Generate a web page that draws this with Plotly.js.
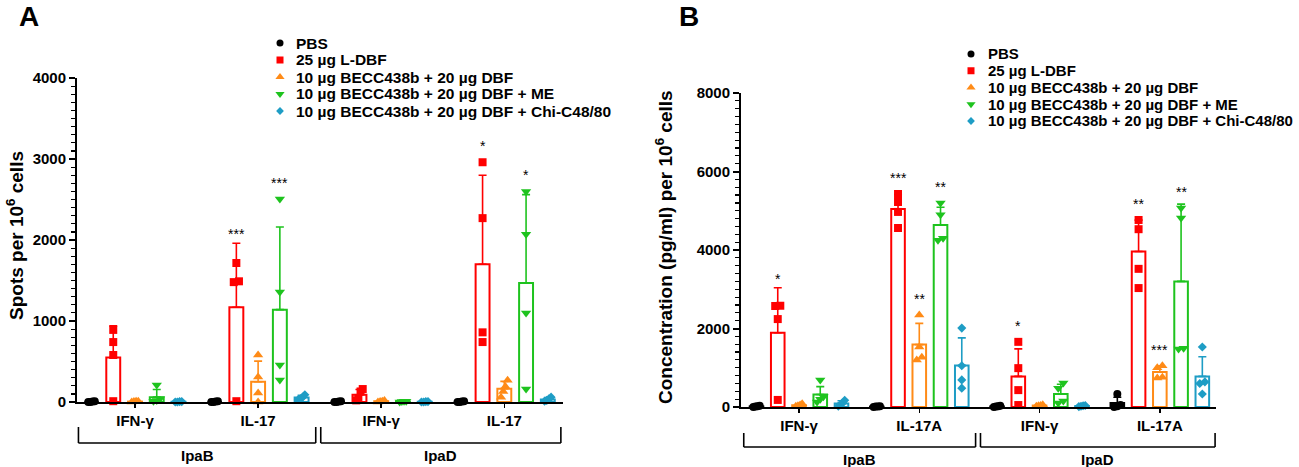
<!DOCTYPE html>
<html>
<head>
<meta charset="utf-8">
<script src="https://cdn.plot.ly/plotly-3.0.1.min.js"></script>
<style>html,body{margin:0;padding:0;background:#fff}#chart{width:1299px;height:467px}</style>
</head>
<body>
<div id="chart"></div>
<script>
// ---------------- DATA ----------------
const SERIES = ['PBS', '25 µg L-DBF', '10 µg BECC438b + 20 µg DBF',
  '10 µg BECC438b + 20 µg DBF + ME', '10 µg BECC438b + 20 µg DBF + Chi-C48/80'];
const CATS_A = ['IFN-γ', 'IL-17', 'IFN-γ', 'IL-17'];
const CATS_B = ['IFN-γ', 'IL-17A', 'IFN-γ', 'IL-17A'];
const ANTIGENS = ['IpaB', 'IpaD'];
const TICKS_A = [0, 1000, 2000, 3000, 4000];
const TICKS_B = [0, 2000, 4000, 6000, 8000];

// Panel A: spots per 10^6 cells; groups = IpaB IFN-γ, IpaB IL-17, IpaD IFN-γ, IpaD IL-17
const A_PBS_PTS  = [[0, 5, 0, 10], [0, 5, 0, 10], [0, 5, 0, 10], [0, 5, 0, 10]];
const A_LDBF_PTS = [[890, 740, 580, 10], [1716, 1490, 1480, 10], [160, 130, 50, 20], [2960, 2270, 860, 740]];
const A_BECC_PTS = [[10, 5, 10, 0], [580, 310, 110, 0], [20, 10, 5, 0], [270, 190, 130, 60]];
const A_ME_PTS   = [[210, 40, 20, 10], [2506, 1358, 457, 272], [10, 10, 5, 0], [2600, 2070, 1100, 160]];
const A_CHI_PTS  = [[5, 0, 5, 0], [90, 60, 40, 30], [5, 0, 5, 0], [60, 40, 20, 10]];
const A_MEAN = [[0, 0, 0, 0], [550, 1170, 90, 1700], [5, 250, 10, 165], [60, 1140, 6, 1470], [3, 55, 3, 32]];
const A_SD   = [[0, 0, 0, 0], [390, 790, 65, 1100], [5, 255, 8, 90], [95, 1020, 5, 1090], [3, 27, 3, 22]];
const A_STARS = [['', '', '', ''], ['', '***', '', '*'], ['', '', '', ''], ['', '***', '', '*'], ['', '', '', '']];

// Panel B: concentration (pg/ml) per 10^6 cells; groups = IpaB IFN-γ, IpaB IL-17A, IpaD IFN-γ, IpaD IL-17A
const B_PBS_PTS  = [[20, 10, 30, 0], [20, 10, 10, 0], [30, 20, 10, 0], [330, 50, 20, 0]];
const B_LDBF_PTS = [[2573, 2580, 2240, 180], [5427, 5223, 4970, 4560], [1660, 990, 430, 50], [4765, 4530, 3520, 3030]];
const B_BECC_PTS = [[80, 50, 30, 20], [2344, 1530, 1270, 1200], [60, 40, 30, 20], [1050, 1000, 760, 740]];
const B_ME_PTS   = [[690, 260, 200, 130], [5200, 4900, 4300, 4250], [610, 480, 150, 100], [5070, 4815, 1500, 1480]];
const B_CHI_PTS  = [[170, 100, 60, 20], [2010, 1050, 690, 480], [40, 30, 20, 10], [1530, 640, 600, 330]];
const B_MEAN = [[15, 10, 15, 100], [1890, 5045, 780, 3960], [45, 1590, 38, 890], [320, 4640, 330, 3200], [90, 1060, 25, 780]];
const B_SD   = [[10, 8, 10, 150], [1150, 370, 700, 800], [25, 540, 18, 160], [200, 450, 250, 1970], [70, 700, 12, 500]];
const B_STARS = [['', '', '', ''], ['*', '***', '*', '**'], ['', '**', '', '***'], ['', '**', '', '**'], ['', '', '', '']];

// ---------------- STYLE ----------------
const COLORS = ['#000000', '#ff0000', '#ff8b17', '#1ec31e', '#1e9dc5'];
const SYMBOLS = ['circle', 'square', 'triangle-up', 'triangle-down', 'diamond'];
const MSIZE = [8, 8, 9, 9, 7];
const FONT = 'Arial, "Liberation Sans", Helvetica, sans-serif';
const W = 1299, H = 467;
const GAP = 5.66;      // distance between category centers (in slot units)
const BARW = 0.64;

const panels = [
  {key: 'A', xa: 'x', ya: 'y', cats: CATS_A, ticks: TICKS_A,
   pts: [A_PBS_PTS, A_LDBF_PTS, A_BECC_PTS, A_ME_PTS, A_CHI_PTS], mean: A_MEAN, sd: A_SD, stars: A_STARS,
   px0: 77, px1: 563, py0: 402, py1: 78, ymax: 4000, minor: 100, firstCenterPx: 135, slotPx: 21.75,
   brTop: 427, brBot: 443, grpLabelY: 455,
   legMarkX: 280, legTextX: 294, legY0: 43, legDY: 17, legFont: 15.5,
   title: 'Spots per 10<sup>6</sup> cells', titleX: 15, titleY: 236, letterX: 29},
  {key: 'B', xa: 'x2', ya: 'y2', cats: CATS_B, ticks: TICKS_B,
   pts: [B_PBS_PTS, B_LDBF_PTS, B_BECC_PTS, B_ME_PTS, B_CHI_PTS], mean: B_MEAN, sd: B_SD, stars: B_STARS,
   px0: 741, px1: 1216, py0: 407, py1: 93, ymax: 8000, minor: 200, firstCenterPx: 799, slotPx: 21.25,
   brTop: 433, brBot: 447, grpLabelY: 459,
   legMarkX: 971, legTextX: 986, legY0: 54, legDY: 16.75, legFont: 15,
   title: 'Concentration (pg/ml) per 10<sup>6</sup> cells', titleX: 664, titleY: 247, letterX: 689}
];

function swarm(vals, thr) {
  const idx = vals.map((v, i) => i).sort((a, b) => vals[a] - vals[b]);
  const off = new Array(vals.length).fill(0);
  let cl = [idx[0]];
  const flush = () => {
    const n = cl.length; if (n < 2) return;
    const step = Math.min(0.24, 0.3 / (n - 1));
    cl.forEach((k, j) => off[k] = (j - (n - 1) / 2) * step);
  };
  for (let i = 1; i < idx.length; i++) {
    if (vals[idx[i]] - vals[idx[i - 1]] < thr) cl.push(idx[i]);
    else { flush(); cl = [idx[i]]; }
  }
  flush();
  return off;
}

const traces = [], annotations = [], shapes = [];
const layout = {
  width: W, height: H, margin: {l: 0, r: 0, t: 0, b: 0},
  paper_bgcolor: '#fff', plot_bgcolor: 'rgba(0,0,0,0)',
  barmode: 'overlay', showlegend: false,
  font: {family: FONT, color: '#000'},
  // full-page pixel frame used for the legend keys
  xaxis3: {domain: [0, 1], range: [0, W], visible: false, fixedrange: true, anchor: 'y3'},
  yaxis3: {domain: [0, 1], range: [H, 0], visible: false, fixedrange: true, anchor: 'x3'}
};

panels.forEach((P, pi) => {
  const centers = P.cats.map((c, g) => g * GAP);
  const x0 = -(P.firstCenterPx - P.px0) / P.slotPx;
  const x1 = x0 + (P.px1 - P.px0) / P.slotPx;
  const ppu = (P.py0 - P.py1) / P.ymax;
  const sfx = pi === 0 ? '' : '2';
  layout['xaxis' + sfx] = {
    domain: [P.px0 / W, P.px1 / W], range: [x0, x1], anchor: 'y' + sfx,
    showline: true, linewidth: 2, linecolor: '#000', showgrid: false, zeroline: false,
    tickvals: centers, ticktext: P.cats, ticks: 'outside', ticklen: 4, tickwidth: 1.5, tickcolor: '#000',
    tickfont: {family: FONT, size: 15, weight: 'bold', color: '#000'}, fixedrange: true
  };
  layout['yaxis' + sfx] = {
    domain: [1 - P.py0 / H, 1 - P.py1 / H], range: [0, P.ymax], anchor: 'x' + sfx,
    showline: true, linewidth: 2, linecolor: '#000', showgrid: false, zeroline: false,
    tickvals: P.ticks, ticks: 'outside', ticklen: 6, tickwidth: 2, tickcolor: '#000',
    minor: {dtick: P.minor, ticks: 'outside', ticklen: 4, tickwidth: 1.2, tickcolor: '#000', showgrid: false},
    tickfont: {family: FONT, size: 15, weight: 'bold', color: '#000'}, fixedrange: true
  };

  // bars
  SERIES.forEach((s, si) => {
    const xs = centers.map(c => c + (si - 2));
    traces.push({
      type: 'bar', x: xs, y: P.mean[si], width: BARW, xaxis: P.xa, yaxis: P.ya,
      marker: {color: 'rgba(255,255,255,1)', line: {color: COLORS[si], width: 2}},
      error_y: {type: 'data', symmetric: false, array: P.sd[si], arrayminus: P.sd[si].map(() => 0),
        color: COLORS[si], thickness: 1.6, width: 4},
      showlegend: false, hoverinfo: 'skip'
    });
  });
  // points
  SERIES.forEach((s, si) => {
    const xs = [], ys = [];
    P.pts[si].forEach((vals, g) => {
      const off = swarm(vals, 8 / ppu);
      vals.forEach((v, k) => { xs.push(centers[g] + (si - 2) + off[k]); ys.push(v); });
    });
    traces.push({
      type: 'scatter', mode: 'markers', name: s, x: xs, y: ys, xaxis: P.xa, yaxis: P.ya,
      cliponaxis: false,
      marker: {symbol: SYMBOLS[si], size: MSIZE[si], color: COLORS[si], line: {width: 0}},
      hoverinfo: 'y'
    });
    // significance stars
    P.stars[si].forEach((st, g) => {
      if (!st) return;
      const capTop = P.mean[si][g] + P.sd[si][g];
      const pMax = Math.max.apply(null, P.pts[si][g]);
      const yv = Math.max(capTop + 13 / ppu, pMax + 20 / ppu);
      annotations.push({
        xref: P.xa, yref: P.ya, x: centers[g] + (si - 2), y: yv, text: st, showarrow: false,
        yanchor: 'middle', yshift: -4, font: {family: FONT, size: 14, color: '#000'}
      });
    });
  });

  // legend: key markers + labels
  SERIES.forEach((s, si) => {
    const ly = P.legY0 + si * P.legDY;
    traces.push({
      type: 'scatter', mode: 'markers', x: [P.legMarkX], y: [ly], xaxis: 'x3', yaxis: 'y3',
      cliponaxis: false, showlegend: false, hoverinfo: 'skip',
      marker: {symbol: SYMBOLS[si], size: MSIZE[si] - 1, color: COLORS[si], line: {width: 0}}
    });
    annotations.push({
      xref: 'paper', yref: 'paper', x: P.legTextX / W, y: 1 - ly / H, text: s, showarrow: false,
      xanchor: 'left', yanchor: 'middle',
      font: {family: FONT, size: P.legFont, weight: 'bold', color: '#000'}
    });
  });

  // antigen brackets
  const mid = (centers[1] + centers[2]) / 2;
  const spans = [[centers[0] - 2.6, mid - 0.18], [mid + 0.05, centers[3] + 2.6]];
  spans.forEach((sp, k) => {
    const [a, b] = sp;
    const yT = 1 - P.brTop / H, yB = 1 - P.brBot / H;
    const line = {color: '#000', width: 1.6};
    shapes.push({type: 'line', xref: P.xa, yref: 'paper', x0: a, x1: a, y0: yT, y1: yB, line});
    shapes.push({type: 'line', xref: P.xa, yref: 'paper', x0: b, x1: b, y0: yT, y1: yB, line});
    shapes.push({type: 'line', xref: P.xa, yref: 'paper', x0: a, x1: b, y0: yB, y1: yB, line});
    annotations.push({
      xref: P.xa, yref: 'paper', x: (a + b) / 2, y: 1 - P.grpLabelY / H, text: ANTIGENS[k],
      showarrow: false, yanchor: 'middle', font: {family: FONT, size: 15, weight: 'bold', color: '#000'}
    });
  });

  // axis title
  annotations.push({
    xref: 'paper', yref: 'paper', x: P.titleX / W, y: 1 - P.titleY / H, text: P.title, textangle: -90,
    showarrow: false, xanchor: 'center', yanchor: 'middle',
    font: {family: FONT, size: 19, weight: 'bold', color: '#000'}
  });
  // panel letter
  annotations.push({
    xref: 'paper', yref: 'paper', x: P.letterX / W, y: 1 - 16 / H, text: P.key, showarrow: false,
    xanchor: 'center', yanchor: 'middle', font: {family: FONT, size: 28, weight: 'bold', color: '#000'}
  });
});

layout.annotations = annotations;
layout.shapes = shapes;
Plotly.newPlot('chart', traces, layout, {displayModeBar: false, staticPlot: true});
</script>
</body>
</html>
